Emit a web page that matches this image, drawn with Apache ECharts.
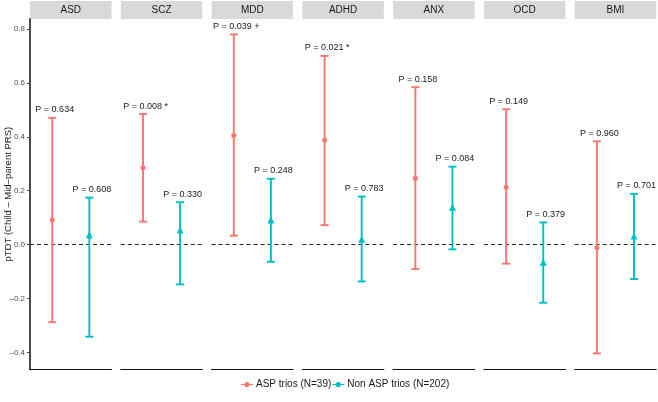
<!DOCTYPE html>
<html><head><meta charset="utf-8">
<script src="https://cdn.jsdelivr.net/npm/echarts@6/dist/echarts.min.js"></script>
<style>html,body{margin:0;padding:0;background:#fff}#c{width:658px;height:402px}</style>
</head><body><div id="c"></div>
<script>
const categories = ['ASD','SCZ','MDD','ADHD','ANX','OCD','BMI'];
const aspMid  = [0.091, 0.285, 0.405, 0.387, 0.246, 0.213, -0.012];
const aspLow  = [-0.288, 0.085, 0.033, 0.072, -0.091, -0.071, -0.404];
const aspHigh = [0.470, 0.484, 0.780, 0.700, 0.584, 0.502, 0.383];
const aspP    = ['P = 0.634','P = 0.008 *','P = 0.039 +','P = 0.021 *','P = 0.158','P = 0.149','P = 0.960'];
const nonMid  = [0.036, 0.054, 0.091, 0.020, 0.138, -0.066, 0.032];
const nonLow  = [-0.342, -0.148, -0.064, -0.137, -0.018, -0.216, -0.128];
const nonHigh = [0.174, 0.157, 0.244, 0.178, 0.289, 0.082, 0.188];
const nonP    = ['P = 0.608','P = 0.330','P = 0.248','P = 0.783','P = 0.084','P = 0.379','P = 0.701'];
const yTicks  = [-0.4, -0.2, 0, 0.2, 0.4, 0.6, 0.8];
const groups  = ['ASP trios (N=39)', 'Non ASP trios (N=202)'];

const RED = '#F8766D', CYAN = '#00BFC4';
const FONT = "'Liberation Sans', Arial, sans-serif";
const L0 = 30, PW = 81.5, STRIDE = 90.78, TOP = 19, BOTTOM = 32.7;
const YMIN = -0.463, YMAX = 0.837;
const XA = 0.273, XB = 0.728;

const grids = [], xAxes = [], yAxes = [], series = [], graphics = [];
categories.forEach((cat, i) => {
  const left = L0 + i * STRIDE;
  grids.push({left: left, width: PW, top: TOP, bottom: BOTTOM, containLabel:false, outerBoundsMode:'none'});
  xAxes.push({type:'value', gridIndex:i, min:0, max:1,
    axisLine:{show:true, onZero:false, lineStyle:{color:'#111', width:1.2}},
    axisTick:{show:false}, axisLabel:{show:false}, splitLine:{show:false}});
  const first = i === 0;
  yAxes.push({type:'value', gridIndex:i, min:YMIN, max:YMAX,
    name: first ? 'pTDT (Child \u2013 Mid\u2013parent PRS)' : '',
    nameLocation:'middle', nameGap:17, nameMoveOverlap:false,
    nameTextStyle:{color:'#1a1a1a', fontSize:9.5, fontFamily:FONT},
    axisLine:{show:first, lineStyle:{color:'#4a4a4a', width:2}},
    axisTick:{show:first, length:3, customValues:yTicks, lineStyle:{color:'#4a4a4a'}},
    axisLabel:{show:first, customValues:yTicks, margin:5, color:'#4d4d4d', fontSize:8, fontFamily:FONT,
      formatter: v => (v < 0 ? '\u2013' : '') + Math.abs(v).toFixed(1)},
    splitLine:{show:false}});
  graphics.push({type:'rect', shape:{x:left, y:1, width:PW, height:18}, style:{fill:'#d9d9d9'}});
  graphics.push({type:'text', x:left + PW/2, y:10, style:{text:cat, fill:'#1a1a1a', font:'10px ' + FONT, align:'center', verticalAlign:'middle'}});

  series.push({type:'line', xAxisIndex:i, yAxisIndex:i, data:[[0,0],[1,0]], symbol:'none', silent:true,
    lineStyle:{color:'#222', width:1.1, type:[4,3]}, z:1});

  const mk = (x, lo, hi, lab, color, name) => ({
    type:'custom', name:name, xAxisIndex:i, yAxisIndex:i, z:2,
    itemStyle:{color:color},
    data:[[x, lo[i], hi[i]]],
    renderItem:(params, api) => {
      const xv = api.value(0);
      const pl = api.coord([xv, api.value(1)]);
      const ph = api.coord([xv, api.value(2)]);
      const st = {stroke:color, lineWidth:1.9};
      return {type:'group', children:[
        {type:'line', shape:{x1:pl[0], y1:pl[1], x2:ph[0], y2:ph[1]}, style:st},
        {type:'line', shape:{x1:pl[0]-4, y1:pl[1], x2:pl[0]+4, y2:pl[1]}, style:st},
        {type:'line', shape:{x1:ph[0]-4, y1:ph[1], x2:ph[0]+4, y2:ph[1]}, style:st},
        {type:'text', style:{text:lab[i], x:ph[0]+2.5, y:ph[1]-8, align:'center', verticalAlign:'middle',
          fill:'#1a1a1a', font:'9px ' + FONT}}
      ]};
    }
  });
  series.push(mk(XA, aspLow, aspHigh, aspP, RED, groups[0]));
  series.push(mk(XB, nonLow, nonHigh, nonP, CYAN, groups[1]));
  series.push({type:'scatter', name:groups[0], xAxisIndex:i, yAxisIndex:i, z:3,
    symbol:'circle', symbolSize:5, itemStyle:{color:RED, opacity:1}, data:[[XA, aspMid[i]]]});
  series.push({type:'scatter', name:groups[1], xAxisIndex:i, yAxisIndex:i, z:3,
    symbol:'triangle', symbolSize:7, itemStyle:{color:CYAN, opacity:1}, data:[[XB, nonMid[i]]]});
});

const icon = 'path://M0,2.3H14V3.7H0Z M4,3A3,3 0 1,1 10,3A3,3 0 1,1 4,3Z';
const chart = echarts.init(document.getElementById('c'), null, {renderer:'canvas'});
chart.setOption({
  animation:false,
  backgroundColor:'#fff',
  grid:grids, xAxis:xAxes, yAxis:yAxes, series:series, graphic:graphics,
  legend:{left:241, top:379.5, itemGap:1, itemWidth:12, itemHeight:6, padding:0,
    textStyle:{color:'#1a1a1a', fontSize:10, fontFamily:FONT, padding:[0,0,0,-2]},
    data:[{name:groups[0], icon:icon, itemStyle:{color:RED}}, {name:groups[1], icon:icon, itemStyle:{color:CYAN}}]}
});
</script></body></html>
